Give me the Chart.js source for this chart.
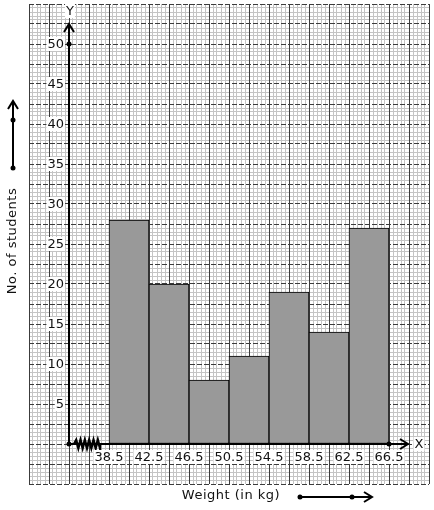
<!DOCTYPE html>
<html>
<head>
<meta charset="utf-8">
<script src="https://cdn.jsdelivr.net/npm/chart.js@4/dist/chart.umd.min.js"></script>
<style>
  html, body { margin: 0; padding: 0; background: #fff; }
  canvas { display: block; }
</style>
</head>
<body>
<canvas id="histChart" width="434" height="510"></canvas>
<script>
// data
const boundaries = [38.5, 42.5, 46.5, 50.5, 54.5, 58.5, 62.5, 66.5];
const students = [28, 20, 8, 11, 19, 14, 27];
const yTickLabels = [5, 10, 15, 20, 25, 30, 35, 40, 45, 50];
const xTitle = 'Weight (in kg)';
const yTitle = 'No. of students';

// graph paper range (kg / students)
const X_MIN = 30.5, X_MAX = 70.5;
const Y_MIN = -5, Y_MAX = 55;
const ORIGIN_X = 34.5;

Chart.defaults.font.family = "'DejaVu Sans', sans-serif";

// ticks for the graph paper lines
function makeTicks(min, count, step) {
    const out = [];
    for (let i = 0; i <= count; i++) out.push({ value: min + i * step });
    return out;
}

const paperAxis = (min, max, ticksFn, color, dash) => ({
    type: 'linear',
    min: min,
    max: max,
    offset: false,
    afterBuildTicks: s => { s.ticks = ticksFn(); },
    ticks: { display: false },
    grid: { color: color, lineWidth: 1, drawTicks: false, offset: false, display: color !== null },
    border: { display: false, dash: dash || [] }
});

// histogram bars sit at the middle of each class
const barData = students.map((v, i) => ({
    x: (boundaries[i] + boundaries[i + 1]) / 2,
    y: v
}));

// axes, arrows, labels drawn on top of the bars
const decorPlugin = {
    id: 'decor',
    afterDatasetsDraw(chart) {
        const ctx = chart.ctx;
        const xs = chart.scales.x, ys = chart.scales.y;
        const ox = xs.getPixelForValue(ORIGIN_X);
        const oy = ys.getPixelForValue(0);
        ctx.save();
        ctx.strokeStyle = '#000';
        ctx.fillStyle = '#000';
        ctx.lineWidth = 2;
        ctx.lineCap = 'butt';

        const dot = (x, y, r) => {
            ctx.beginPath();
            ctx.arc(x, y, r || 2.5, 0, Math.PI * 2);
            ctx.fill();
        };

        // Y axis
        const yTop = ys.getPixelForValue(52.5);
        ctx.beginPath();
        ctx.moveTo(ox, oy);
        ctx.lineTo(ox, yTop);
        ctx.stroke();
        ctx.beginPath();
        ctx.moveTo(ox - 5, yTop + 8);
        ctx.lineTo(ox, yTop);
        ctx.lineTo(ox + 5, yTop + 8);
        ctx.stroke();
        dot(ox, ys.getPixelForValue(50));

        // X axis with the kink
        const kinkStart = ox + 5;
        const kinkEnd = xs.getPixelForValue(boundaries[0]) - 9;
        const xEnd = xs.getPixelForValue(X_MAX) - 21;
        ctx.beginPath();
        ctx.moveTo(ox, oy);
        ctx.lineTo(kinkStart, oy);
        ctx.lineTo(kinkEnd, oy);
        ctx.lineTo(xEnd, oy);
        ctx.stroke();
        ctx.save();
        ctx.lineWidth = 2.5;
        ctx.beginPath();
        ctx.moveTo(kinkStart, oy);
        const n = 12;
        const w = (kinkEnd - kinkStart) / n;
        for (let i = 1; i <= n; i++) {
            ctx.lineTo(kinkStart + i * w, oy + (i % 2 ? -4 : 4));
        }
        ctx.lineTo(kinkEnd, oy);
        ctx.stroke();
        ctx.restore();
        ctx.beginPath();
        ctx.moveTo(xEnd - 8, oy - 5);
        ctx.lineTo(xEnd, oy);
        ctx.lineTo(xEnd - 8, oy + 5);
        ctx.stroke();
        dot(ox, oy);
        dot(xs.getPixelForValue(boundaries[boundaries.length - 1]), oy);

        // labels with white backing
        ctx.font = "13px 'DejaVu Sans'";
        ctx.textBaseline = 'middle';
        const label = (txt, x, y, align) => {
            ctx.textAlign = align;
            const tw = ctx.measureText(txt).width;
            const left = align === 'right' ? x - tw : align === 'center' ? x - tw / 2 : x;
            ctx.fillStyle = '#fff';
            ctx.fillRect(left - 1, y - 7, tw + 2, 14);
            ctx.fillStyle = '#111';
            ctx.fillText(txt, x, y + 1);
        };
        yTickLabels.forEach(v => label(String(v), ox - 5, ys.getPixelForValue(v), 'right'));
        boundaries.forEach(b => label(String(b), xs.getPixelForValue(b), oy + 13, 'center'));
        label('Y', ox + 1, ys.getPixelForValue(Y_MAX) + 7, 'center');
        label('X', xs.getPixelForValue(X_MAX) - 10, oy, 'center');

        // axis titles
        ctx.fillStyle = '#111';
        ctx.textAlign = 'center';
        ctx.letterSpacing = '0.5px';
        ctx.fillText(xTitle, 231, 496);
        ctx.save();
        ctx.translate(13, 241);
        ctx.rotate(-Math.PI / 2);
        ctx.fillText(yTitle, 0, 0);
        ctx.restore();
        ctx.letterSpacing = '0px';

        // direction arrows next to titles
        ctx.fillStyle = '#000';
        ctx.beginPath();
        ctx.moveTo(300, 497);
        ctx.lineTo(371, 497);
        ctx.stroke();
        ctx.beginPath();
        ctx.moveTo(364, 492);
        ctx.lineTo(372, 497);
        ctx.lineTo(364, 502);
        ctx.stroke();
        dot(300, 497);
        dot(352, 497);

        ctx.beginPath();
        ctx.moveTo(13, 168);
        ctx.lineTo(13, 101);
        ctx.stroke();
        ctx.beginPath();
        ctx.moveTo(8, 109);
        ctx.lineTo(13, 101);
        ctx.lineTo(18, 109);
        ctx.stroke();
        dot(13, 120);
        dot(13, 168);

        ctx.restore();
    }
};

new Chart(document.getElementById('histChart'), {
    type: 'bar',
    data: {
        datasets: [{
            data: barData,
            xAxisID: 'xBar',
            yAxisID: 'y',
            backgroundColor: '#999999',
            borderColor: '#000',
            borderWidth: 1,
            borderSkipped: false,
            barPercentage: 1,
            categoryPercentage: 1,
            grouped: false
        }]
    },
    options: {
        responsive: false,
        animation: false,
        events: [],
        layout: { padding: { left: 29, top: 4, right: 5, bottom: 26 } },
        plugins: {
            legend: { display: false },
            tooltip: { enabled: false }
        },
        scales: {
            // minor lines every 0.4 kg / 0.5 student
            x: Object.assign(paperAxis(X_MIN, X_MAX, () => makeTicks(X_MIN, 100, 0.4),
                c => c.index % 5 === 0 ? 'rgba(0,0,0,0)' : '#c4c4c4'), { position: 'bottom' }),
            y: Object.assign(paperAxis(Y_MIN, Y_MAX, () => makeTicks(Y_MIN, 120, 0.5),
                c => c.index % 5 === 0 ? 'rgba(0,0,0,0)' : '#c4c4c4'), { position: 'left' }),
            // major lines every 2 kg / 2.5 students
            xMajor: Object.assign(paperAxis(X_MIN, X_MAX, () => makeTicks(X_MIN, 20, 2), '#3c3c3c'),
                { position: 'bottom' }),
            yMajor: Object.assign(paperAxis(Y_MIN, Y_MAX, () => makeTicks(Y_MIN, 24, 2.5), '#3c3c3c', [5, 2]),
                { position: 'left' }),
            // class boundaries, used only to size the bars
            xBar: Object.assign(paperAxis(X_MIN, X_MAX, () => boundaries.map(b => ({ value: b })), null),
                { position: 'bottom' })
        }
    },
    plugins: [decorPlugin]
});
</script>
</body>
</html>
